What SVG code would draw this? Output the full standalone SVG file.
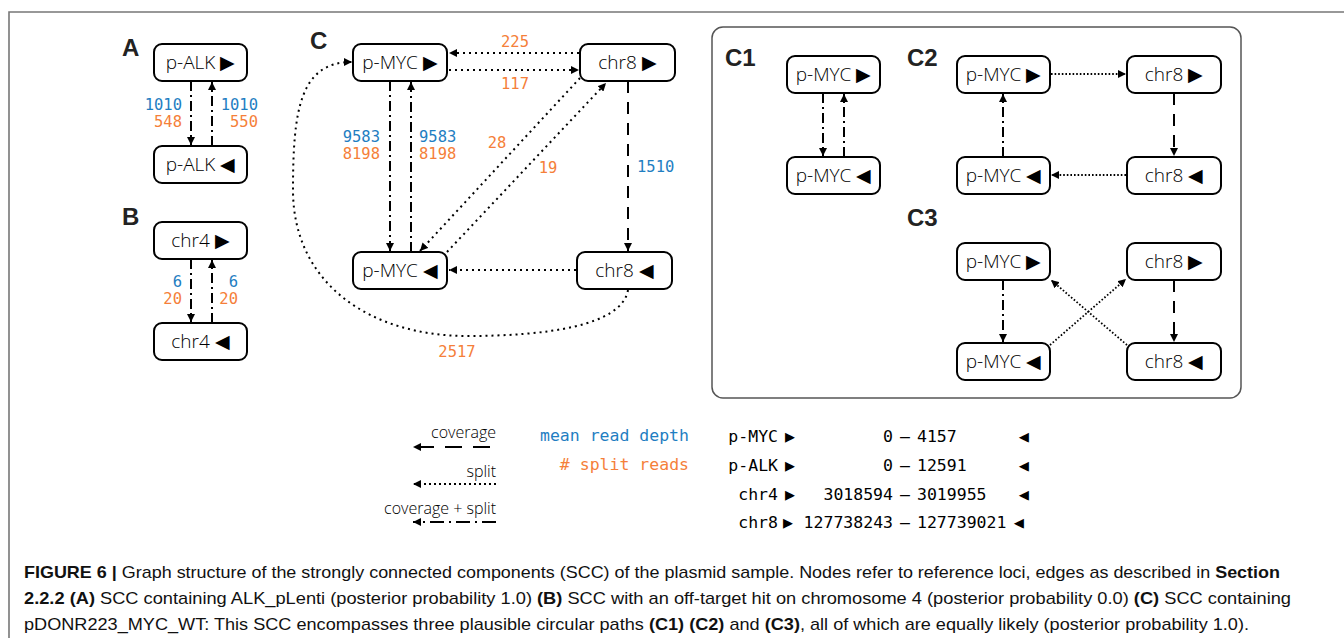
<svg xmlns="http://www.w3.org/2000/svg" width="1344" height="638" viewBox="0 0 1344 638">
<defs>
<marker id="ah" viewBox="0 0 10 10" refX="10" refY="5" markerWidth="8" markerHeight="8" markerUnits="userSpaceOnUse" orient="auto">
<path d="M0,0 L10,5 L0,10 z" fill="#000"/>
</marker>
</defs>
<style>
.node rect{fill:#fff;stroke:#000;stroke-width:2}
.node text{font-family:"Open Sans","Noto Sans",sans-serif;font-weight:300;font-size:19px;text-anchor:middle;fill:#000}
.e{fill:none;stroke:#000;stroke-width:2}
.dd{stroke-dasharray:10 4 2 4}
.dot{stroke-dasharray:2 4}
.dotf{stroke-dasharray:1.6 2;stroke-width:1.8}
.dash{stroke-dasharray:12 9}
.arr{marker-end:url(#ah)}
.num{font-family:"DejaVu Sans Mono","Liberation Mono",monospace;font-size:15.5px}
.bl{fill:#1f7ec2}
.or{fill:#f57f3a}
.lab{font-family:"Liberation Sans",Arial,sans-serif;font-weight:bold;font-size:24px;fill:#222}
.leg{font-family:"Open Sans","Noto Sans",sans-serif;font-weight:300;font-size:16px;text-anchor:end}
.mono{font-family:"DejaVu Sans Mono","Liberation Mono",monospace;font-size:16.5px}
.cap{font-family:"Liberation Sans",Arial,sans-serif;font-size:17px;fill:#111}
.b{font-weight:bold}
</style>
<rect x="0" y="0" width="1344" height="638" fill="#fff"/>
<path d="M9,638 V12 H1344" fill="none" stroke="#777" stroke-width="1.6"/>
<rect x="712" y="27" width="529" height="371" rx="11" fill="none" stroke="#555" stroke-width="1.5"/>

<text class="lab" x="122" y="56">A</text>
<text class="lab" x="122" y="225">B</text>
<text class="lab" x="310" y="49">C</text>
<text class="lab" x="725" y="66">C1</text>
<text class="lab" x="907" y="66">C2</text>
<text class="lab" x="907" y="226">C3</text>

<g id="connectors">
<line class="e dd arr" x1="191" y1="81" x2="191" y2="145"/>
<line class="e dd arr" x1="212" y1="146" x2="212" y2="82"/>
<line class="e dd arr" x1="191" y1="259" x2="191" y2="322"/>
<line class="e dd arr" x1="212" y1="323" x2="212" y2="260"/>
<line class="e dot arr" x1="579" y1="53" x2="449" y2="53"/>
<line class="e dot arr" x1="449" y1="70" x2="579" y2="70"/>
<line class="e dd arr" x1="390" y1="81" x2="390" y2="251"/>
<line class="e dd arr" x1="411" y1="252" x2="411" y2="82"/>
<line class="e dot arr" x1="580" y1="78" x2="420" y2="251"/>
<line class="e dot arr" x1="447" y1="252" x2="606" y2="83"/>
<line class="e dash arr" x1="628" y1="81" x2="628" y2="251"/>
<line class="e dot arr" x1="576" y1="270" x2="449" y2="270"/>
<path class="e dot arr" d="M628,290 C622,326 545,336 467,336 C372,336 293,285 293,190 C293,110 300,62 352,62"/>
<line class="e dd arr" x1="823" y1="93" x2="823" y2="156"/>
<line class="e dd arr" x1="844" y1="157" x2="844" y2="94"/>
<line class="e dotf arr" x1="1051" y1="74" x2="1126" y2="74"/>
<line class="e dash arr" x1="1174" y1="93" x2="1174" y2="156"/>
<line class="e dotf arr" x1="1126" y1="175" x2="1051" y2="175"/>
<line class="e dd arr" x1="1003" y1="157" x2="1003" y2="94"/>
<line class="e dd arr" x1="1003" y1="280" x2="1003" y2="342"/>
<line class="e dash arr" x1="1174" y1="280" x2="1174" y2="342"/>
<line class="e dotf arr" x1="1050" y1="345" x2="1126" y2="279"/>
<line class="e dotf arr" x1="1127" y1="345" x2="1051" y2="280"/>
<line class="e dash arr" x1="496" y1="447" x2="413" y2="447" style="stroke-dasharray:0 6 17 11 17 11 17 11"/>
<line class="e dot arr" x1="496" y1="484" x2="413" y2="484" style="stroke-dasharray:2 3"/>
<line class="e dd arr" x1="496" y1="522" x2="413" y2="522" style="stroke-dasharray:14 5 2 5"/>
</g>

<g id="edge-labels">
<text class="num bl" x="182" y="110" text-anchor="end">1010</text>
<text class="num or" x="182" y="127" text-anchor="end">548</text>
<text class="num bl" x="258" y="110" text-anchor="end">1010</text>
<text class="num or" x="258" y="127" text-anchor="end">550</text>
<text class="num bl" x="182" y="287" text-anchor="end">6</text>
<text class="num or" x="182" y="304" text-anchor="end">20</text>
<text class="num bl" x="238" y="287" text-anchor="end">6</text>
<text class="num or" x="238" y="304" text-anchor="end">20</text>
<text class="num bl" x="380" y="142" text-anchor="end">9583</text>
<text class="num or" x="380" y="159" text-anchor="end">8198</text>
<text class="num bl" x="419" y="142">9583</text>
<text class="num or" x="419" y="159">8198</text>
<text class="num or" x="515" y="47" text-anchor="middle">225</text>
<text class="num or" x="515" y="89" text-anchor="middle">117</text>
<text class="num or" x="497" y="148" text-anchor="middle">28</text>
<text class="num or" x="548" y="173" text-anchor="middle">19</text>
<text class="num bl" x="637" y="172">1510</text>
<text class="num or" x="457" y="357" text-anchor="middle">2517</text>
</g>

<g id="n-a1" class="node"><rect x="154" y="44" width="93" height="37" rx="8"/><text x="200.5" y="69">p-ALK ▶</text></g>
<g id="n-a2" class="node"><rect x="154" y="146" width="93" height="37" rx="8"/><text x="200.5" y="171">p-ALK ◀</text></g>
<g id="n-b1" class="node"><rect x="154" y="222" width="93" height="37" rx="8"/><text x="200.5" y="247">chr4 ▶</text></g>
<g id="n-b2" class="node"><rect x="154" y="323" width="93" height="37" rx="8"/><text x="200.5" y="348">chr4 ◀</text></g>
<g id="n-c1" class="node"><rect x="353" y="44" width="94" height="37" rx="8"/><text x="400" y="69">p-MYC ▶</text></g>
<g id="n-c2" class="node"><rect x="580" y="44" width="95" height="37" rx="8"/><text x="627.5" y="69">chr8 ▶</text></g>
<g id="n-c3" class="node"><rect x="353" y="252" width="94" height="37" rx="8"/><text x="400" y="277">p-MYC ◀</text></g>
<g id="n-c4" class="node"><rect x="577" y="252" width="95" height="37" rx="8"/><text x="624.5" y="277">chr8 ◀</text></g>
<g id="n-c1a" class="node"><rect x="787" y="56" width="93" height="37" rx="8"/><text x="833.5" y="81">p-MYC ▶</text></g>
<g id="n-c1b" class="node"><rect x="787" y="157" width="93" height="37" rx="8"/><text x="833.5" y="182">p-MYC ◀</text></g>
<g id="n-c2a" class="node"><rect x="957" y="56" width="93" height="37" rx="8"/><text x="1003.5" y="81">p-MYC ▶</text></g>
<g id="n-c2b" class="node"><rect x="1127" y="56" width="94" height="37" rx="8"/><text x="1174" y="81">chr8 ▶</text></g>
<g id="n-c2c" class="node"><rect x="957" y="157" width="93" height="37" rx="8"/><text x="1003.5" y="182">p-MYC ◀</text></g>
<g id="n-c2d" class="node"><rect x="1127" y="157" width="94" height="37" rx="8"/><text x="1174" y="182">chr8 ◀</text></g>
<g id="n-c3a" class="node"><rect x="957" y="243" width="93" height="37" rx="8"/><text x="1003.5" y="268">p-MYC ▶</text></g>
<g id="n-c3b" class="node"><rect x="1127" y="243" width="94" height="37" rx="8"/><text x="1174" y="268">chr8 ▶</text></g>
<g id="n-c3c" class="node"><rect x="957" y="343" width="93" height="37" rx="8"/><text x="1003.5" y="368">p-MYC ◀</text></g>
<g id="n-c3d" class="node"><rect x="1127" y="343" width="94" height="37" rx="8"/><text x="1174" y="368">chr8 ◀</text></g>

<g id="legend">
<text class="leg" x="496" y="438">coverage</text>
<text class="leg" x="496" y="477">split</text>
<text class="leg" x="496" y="514">coverage + split</text>
<text class="mono bl" x="689" y="441" text-anchor="end">mean read depth</text>
<text class="mono or" x="689" y="470" text-anchor="end"># split reads</text>
<g class="mono">
<text x="778" y="442" text-anchor="end">p-MYC</text>
<text x="778" y="471" text-anchor="end">p-ALK</text>
<text x="778" y="500" text-anchor="end">chr4</text>
<text x="778" y="528" text-anchor="end">chr8</text>
<text x="785" y="442">▶</text>
<text x="785" y="471">▶</text>
<text x="785" y="500">▶</text>
<text x="783" y="528">▶</text>
<text x="893" y="442" text-anchor="end">0</text>
<text x="893" y="471" text-anchor="end">0</text>
<text x="893" y="500" text-anchor="end">3018594</text>
<text x="893" y="528" text-anchor="end">127738243</text>
<text x="905" y="442" text-anchor="middle">—</text>
<text x="905" y="471" text-anchor="middle">—</text>
<text x="905" y="500" text-anchor="middle">—</text>
<text x="905" y="528" text-anchor="middle">—</text>
<text x="917" y="442">4157</text>
<text x="917" y="471">12591</text>
<text x="917" y="500">3019955</text>
<text x="917" y="528">127739021</text>
<text x="1019" y="442">◀</text>
<text x="1019" y="471">◀</text>
<text x="1019" y="500">◀</text>
<text x="1014" y="528">◀</text>
</g>
</g>

<g id="caption" class="cap">
<text x="24" y="578" textLength="1256" lengthAdjust="spacingAndGlyphs"><tspan class="b">FIGURE 6 |</tspan> Graph structure of the strongly connected components (SCC) of the plasmid sample. Nodes refer to reference loci, edges as described in <tspan class="b">Section</tspan></text>
<text x="24" y="604" textLength="1267" lengthAdjust="spacingAndGlyphs"><tspan class="b">2.2.2 (A)</tspan> SCC containing ALK_pLenti (posterior probability 1.0) <tspan class="b">(B)</tspan> SCC with an off-target hit on chromosome 4 (posterior probability 0.0) <tspan class="b">(C)</tspan> SCC containing</text>
<text x="24" y="630" textLength="1225" lengthAdjust="spacingAndGlyphs">pDONR223_MYC_WT: This SCC encompasses three plausible circular paths <tspan class="b">(C1)</tspan> <tspan class="b">(C2)</tspan> and <tspan class="b">(C3)</tspan>, all of which are equally likely (posterior probability 1.0).</text>
</g>
</svg>
